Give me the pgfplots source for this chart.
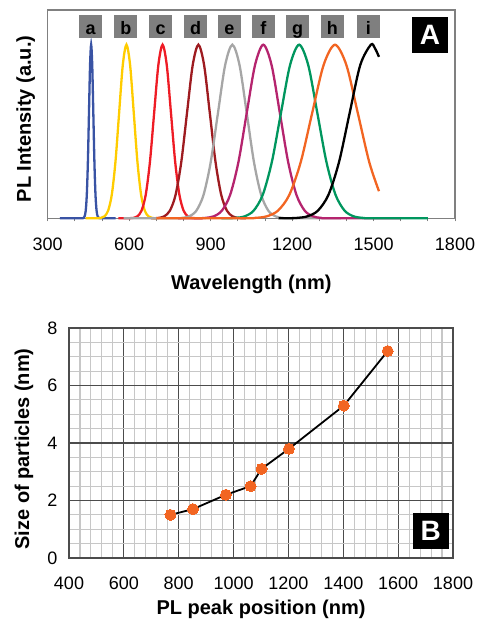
\documentclass[border=0pt]{standalone}
\usepackage{pgfplots}
\pgfplotsset{compat=1.18}
\usepackage{fontspec}
\setmainfont{Liberation Sans}
\definecolor{ca}{HTML}{3953A4}
\definecolor{cb}{HTML}{FFCC00}
\definecolor{cc}{HTML}{EE1C25}
\definecolor{cd}{HTML}{9E1B20}
\definecolor{ce}{HTML}{A6A6A6}
\definecolor{cf}{HTML}{B5246E}
\definecolor{cg}{HTML}{00965E}
\definecolor{ch}{HTML}{F26522}
\definecolor{boxgray}{HTML}{7F7F7F}
\begin{document}
\begin{tikzpicture}
\useasboundingbox (0,0) rectangle (477pt,620pt);
\tikzset{lbl/.style={fill=boxgray, inner sep=0pt, minimum width=23pt, text height=19.7pt, text depth=3.3pt, text width=23pt, align=center, font=\bfseries\fontsize{18}{18}\selectfont}}
\begin{axis}[
  at={(47.7pt,401.7pt)}, anchor=south west,
  scale only axis, width=407.3pt, height=208.3pt,
  xmin=300, xmax=1800, ymin=0, ymax=1.2,
  xtick={300,600,...,1800}, minor x tick num=2,
  ytick=\empty, xtick pos=bottom,
  tick align=outside, major tick length=3pt, minor tick length=3pt,
  axis line style={draw=gray, line width=1.2pt},
  every tick/.style={gray, line width=0.8pt},
  /pgf/number format/assume math mode=true,
  /pgf/number format/1000 sep={},
  tick label style={font=\fontsize{18}{18}\selectfont},
  xticklabel style={anchor=base, yshift=-29pt},
  xlabel={\bfseries Wavelength (nm)},
  ylabel={\bfseries PL Intensity (a.u.)},
  label style={font=\bfseries\fontsize{20}{24}\selectfont},
  xlabel style={at={(axis description cs:0.5,-0.315)}, anchor=center},
  ylabel style={at={(axis description cs:-0.0543,0.477)}, anchor=center, rotate=0},
  clip=false,
]
\addplot[ca, line width=2.3pt, smooth] coordinates {(345,0)(420,0)(432,0.0022)(436,0.0111)(440,0.0439)(444,0.1353)(448,0.3247)(452,0.6065)(456,0.8825)(460,1)(464,0.8825)(468,0.6065)(472,0.3247)(476,0.1353)(480,0.0439)(484,0.0111)(488,0.0022)(500,0)(550,0)};
\addplot[cb, line width=2.3pt, smooth] coordinates {(440,0)(482,0)(495.5,0.0022)(509,0.0111)(522.5,0.0439)(536,0.1353)(549.5,0.3247)(563,0.6065)(576.5,0.8825)(590,1)(603.5,0.8825)(617,0.6065)(630.5,0.3247)(644,0.1353)(657.5,0.0439)(671,0.0111)(684.5,0.0022)(698,0)(700,0)};
\addplot[cc, line width=2.3pt, smooth] coordinates {(560,0)(599,0)(614.5,0.0022)(630,0.0111)(645.5,0.0439)(661,0.1353)(676.5,0.3247)(692,0.6065)(707.5,0.8825)(723,1)(738.5,0.8825)(754,0.6065)(769.5,0.3247)(785,0.1353)(800.5,0.0439)(816,0.0111)(831.5,0.0022)(847,0)(870,0)};
\addplot[cd, line width=2.3pt, smooth] coordinates {(680,0)(687,0)(708,0.0022)(729,0.0111)(750,0.0439)(771,0.1353)(792,0.3247)(813,0.6065)(834,0.8825)(855,1)(876,0.8825)(897,0.6065)(918,0.3247)(939,0.1353)(960,0.0439)(981,0.0111)(1002,0.0022)(1023,0)(1030,0)};
\addplot[ce, line width=2.3pt, smooth] coordinates {(580,0)(768,0)(794.5,0.0022)(821,0.0111)(847.5,0.0439)(874,0.1353)(900.5,0.3247)(927,0.6065)(953.5,0.8825)(980,1)(1006.5,0.8825)(1033,0.6065)(1059.5,0.3247)(1086,0.1353)(1112.5,0.0439)(1139,0.0111)(1165.5,0.0022)(1192,0)(1380,0)};
\addplot[cf, line width=2.3pt, smooth] coordinates {(780,0)(850,0)(880.5,0.0022)(911,0.0111)(941.5,0.0439)(972,0.1353)(1002.5,0.3247)(1033,0.6065)(1063.5,0.8825)(1094,1)(1124.5,0.8825)(1155,0.6065)(1185.5,0.3247)(1216,0.1353)(1246.5,0.0439)(1277,0.0111)(1307.5,0.0022)(1338,0)(1600,0)};
\addplot[cg, line width=2.3pt, smooth] coordinates {(940,0)(958,0)(991.5,0.0022)(1025,0.0111)(1058.5,0.0439)(1092,0.1353)(1125.5,0.3247)(1159,0.6065)(1192.5,0.8825)(1226,1)(1259.5,0.8825)(1293,0.6065)(1326.5,0.3247)(1360,0.1353)(1393.5,0.0439)(1427,0.0111)(1460.5,0.0022)(1494,0)(1700,0)};
\addplot[ch, line width=2.3pt, smooth] coordinates {(700,0)(1022,0)(1064,0.0022)(1106,0.0111)(1148,0.0439)(1190,0.1353)(1232,0.3247)(1274,0.6065)(1316,0.8825)(1358,1)(1400,0.8825)(1442,0.6065)(1484,0.3247)(1520,0.156)};
\addplot[black, line width=2.3pt, smooth] coordinates {(1150,0)(1178,0)(1217,0.0022)(1256,0.0111)(1295,0.0439)(1334,0.1353)(1373,0.3247)(1412,0.6065)(1451,0.8825)(1490,1)(1505,0.98)(1520,0.93)};
\node[lbl] at (axis cs:458,1.104) {a};
\node[lbl] at (axis cs:588,1.104) {b};
\node[lbl] at (axis cs:716,1.104) {c};
\node[lbl] at (axis cs:845,1.104) {d};
\node[lbl] at (axis cs:969,1.104) {e};
\node[lbl] at (axis cs:1094,1.104) {f};
\node[lbl] at (axis cs:1220,1.104) {g};
\node[lbl] at (axis cs:1348,1.104) {h};
\node[lbl] at (axis cs:1481,1.104) {i};
\node[fill=black, text=white, inner sep=0pt, minimum width=36.5pt, minimum height=36pt, font=\bfseries\fontsize{28}{28}\selectfont] at (rel axis cs:0.9386,0.8786) {A};
\end{axis}
\begin{axis}[
  at={(69pt,62pt)}, anchor=south west,
  scale only axis, width=384pt, height=230pt,
  xmin=400, xmax=1800, ymin=0, ymax=8,
  xtick={400,600,...,1800}, ytick={0,2,...,8},
  minor x tick num=4, minor y tick num=3,
  grid=both,
  major grid style={draw=black!70, line width=1.1pt},
  minor grid style={draw=black!22, line width=1.1pt},
  major tick length=0pt, minor tick length=0pt,
  axis line style={draw=black!70, line width=1.2pt},
  /pgf/number format/assume math mode=true,
  /pgf/number format/1000 sep={},
  tick label style={font=\fontsize{18}{18}\selectfont},
  xticklabel style={anchor=base, yshift=-32pt},
  yticklabel style={anchor=east, xshift=-8pt},
  xlabel={\bfseries PL peak position (nm)},
  ylabel={\bfseries Size of particles (nm)},
  label style={font=\bfseries\fontsize{20}{24}\selectfont},
  xlabel style={at={(axis description cs:0.5,-0.225)}, anchor=center},
  ylabel style={at={(axis description cs:-0.117,0.474)}, anchor=center},
  clip=false,
]
\addplot[black, line width=1.8pt, mark=*, mark size=5.5pt, mark options={draw=ch, fill=ch, line width=0pt}] coordinates {(770,1.5)(852,1.7)(972,2.2)(1062,2.5)(1102,3.1)(1202,3.8)(1402,5.3)(1562,7.2)};
\node[fill=black, text=white, inner sep=0pt, minimum width=36pt, minimum height=35.5pt, font=\bfseries\fontsize{28}{28}\selectfont] at (rel axis cs:0.942,0.1174) {B};
\end{axis}
\end{tikzpicture}
\end{document}
